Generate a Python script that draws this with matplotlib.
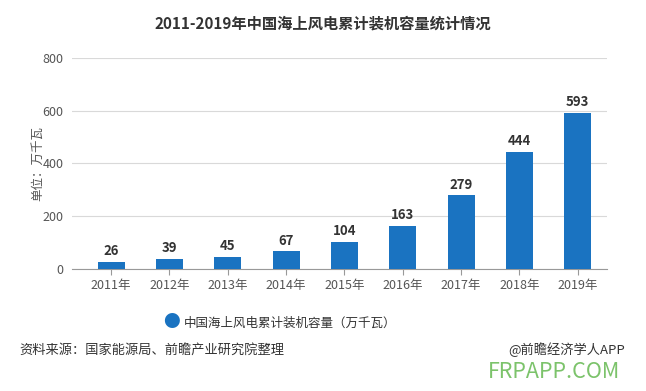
import matplotlib.pyplot as plt

plt.rcParams['font.family'] = ['Noto Sans CJK SC', 'DejaVu Sans']

years = ['2011年', '2012年', '2013年', '2014年', '2015年', '2016年', '2017年', '2018年', '2019年']
capacity = [26, 39, 45, 67, 104, 163, 279, 444, 593]
bar_color = '#1a73c1'

fig = plt.figure(figsize=(6.46, 3.91), dpi=100)
fig.patch.set_facecolor('white')
ax = fig.add_axes([0.1115, 0.312, 0.828, 0.54])

x = range(len(years))
ax.bar(x, capacity, width=0.46, color=bar_color, zorder=3)
for i, v in zip(x, capacity):
    ax.text(i, v + 14, str(v), ha='center', va='bottom', fontsize=9.5,
            fontweight='bold', color='#333333')

ax.set_xlim(-0.67, 8.5)
ax.set_ylim(0, 800)
ax.set_yticks([0, 200, 400, 600, 800])
ax.set_xticks(list(x))
ax.set_xticklabels(years)
ax.grid(axis='y', color='#d9d9d9', linewidth=0.8, zorder=0)
for s in ['top', 'right', 'left']:
    ax.spines[s].set_visible(False)
ax.spines['bottom'].set_color('#999999')
ax.tick_params(axis='y', length=0, labelsize=9, colors='#555555', pad=6)
ax.tick_params(axis='x', length=4, color='#999999', labelsize=9, colors='#555555')
ax.set_ylabel('单位：万千瓦', fontsize=9, color='#555555', labelpad=-1)

fig.text(0.5, 0.94, '2011-2019年中国海上风电累计装机容量统计情况', ha='center',
         va='center', fontsize=11, fontweight='bold', color='#333333')

# legend
fig.text(0.265, 1 - 323 / 391, '●', ha='center', va='center', fontsize=12, color=bar_color)
fig.text(0.285, 1 - 323 / 391, '中国海上风电累计装机容量（万千瓦）', ha='left',
         va='center', fontsize=9, color='#333333')

fig.text(0.03, 1 - 350 / 391, '资料来源：国家能源局、前瞻产业研究院整理', ha='left',
         va='center', fontsize=9.5, color='#333333')
fig.text(0.967, 1 - 350 / 391, '@前瞻经济学人APP', ha='right',
         va='center', fontsize=9.5, color='#333333')
fig.text(0.96, 1 - 372 / 391, 'FRPAPP.COM', ha='right', va='center',
         fontsize=15.5, color='#7cc36b')

fig.savefig('out.png', dpi=100)
